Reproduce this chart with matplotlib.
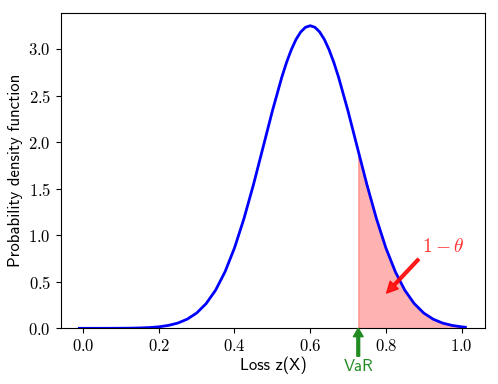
import numpy as np
import matplotlib
matplotlib.use('Agg')
import matplotlib.pyplot as plt

plt.rcParams['font.family'] = 'serif'
plt.rcParams['font.serif'] = ['cmr10']
plt.rcParams['mathtext.fontset'] = 'cm'
plt.rcParams['axes.formatter.use_mathtext'] = True

# loss values and density
loss = [-0.01, 0.0, 0.025, 0.05, 0.075, 0.1, 0.125, 0.15, 0.175, 0.2, 0.225,
        0.25, 0.275, 0.3, 0.325, 0.35, 0.375, 0.4, 0.425, 0.45, 0.475, 0.5,
        0.525, 0.5375, 0.55, 0.5625, 0.575, 0.5875, 0.6, 0.6125, 0.625, 0.6375,
        0.65, 0.6625, 0.675, 0.7, 0.725, 0.75, 0.775, 0.8, 0.825, 0.85, 0.875,
        0.9, 0.925, 0.95, 0.975, 1.0, 1.01]
density = [0.0, 0.0, 0.0, 0.0001, 0.0003, 0.0008, 0.0018, 0.0039, 0.0081, 0.016, 0.031,
           0.056, 0.098, 0.164, 0.265, 0.409, 0.607, 0.863, 1.178, 1.541, 1.936, 2.333,
           2.697, 2.855, 2.991, 3.102, 3.183, 3.233, 3.25, 3.233, 3.183, 3.102,
           2.991, 2.855, 2.697, 2.333, 1.936, 1.541, 1.178, 0.863, 0.607, 0.409, 0.265,
           0.164, 0.098, 0.056, 0.031, 0.016, 0.012]

var_level = 0.727
var_density = 1.87
tail_label = r'$1-\theta$'

x = np.array(loss)
y = np.array(density)

fig = plt.figure(figsize=(4.98, 3.84), dpi=100)
ax = fig.add_axes([0.122, 0.145, 0.852, 0.822])

ax.plot(x, y, color='blue', lw=2)

mask = x > var_level
fx = np.concatenate([[var_level], x[mask]])
fy = np.concatenate([[var_density], y[mask]])
ax.fill_between(fx, fy, color='red', alpha=0.3, lw=1)

ax.set_ylim(0, 3.39)
ax.set_xlim(-0.059, 1.062)

ax.annotate(tail_label, xy=(0.80, 0.37), xytext=(0.895, 0.78),
            color='red', alpha=0.8, fontsize=14, ha='left', va='bottom',
            arrowprops=dict(facecolor='red', edgecolor='red', alpha=0.85,
                            width=2, headwidth=8, headlength=8, shrink=0.02))

ax.annotate('VaR', xy=(var_level, 0), xytext=(var_level, -0.41),
            color='forestgreen', fontsize=12, family='cmss10',
            ha='center', va='center', annotation_clip=False,
            arrowprops=dict(facecolor='forestgreen', edgecolor='forestgreen',
                            width=2, headwidth=7, headlength=6, shrink=0.0))

ax.set_xlabel('Loss z(X)', family='cmss10', fontsize=12, labelpad=2)
ax.set_ylabel('Probability density function', family='cmss10', fontsize=12)
ax.tick_params(labelsize=12)

fig.savefig('out.png', dpi=100)
